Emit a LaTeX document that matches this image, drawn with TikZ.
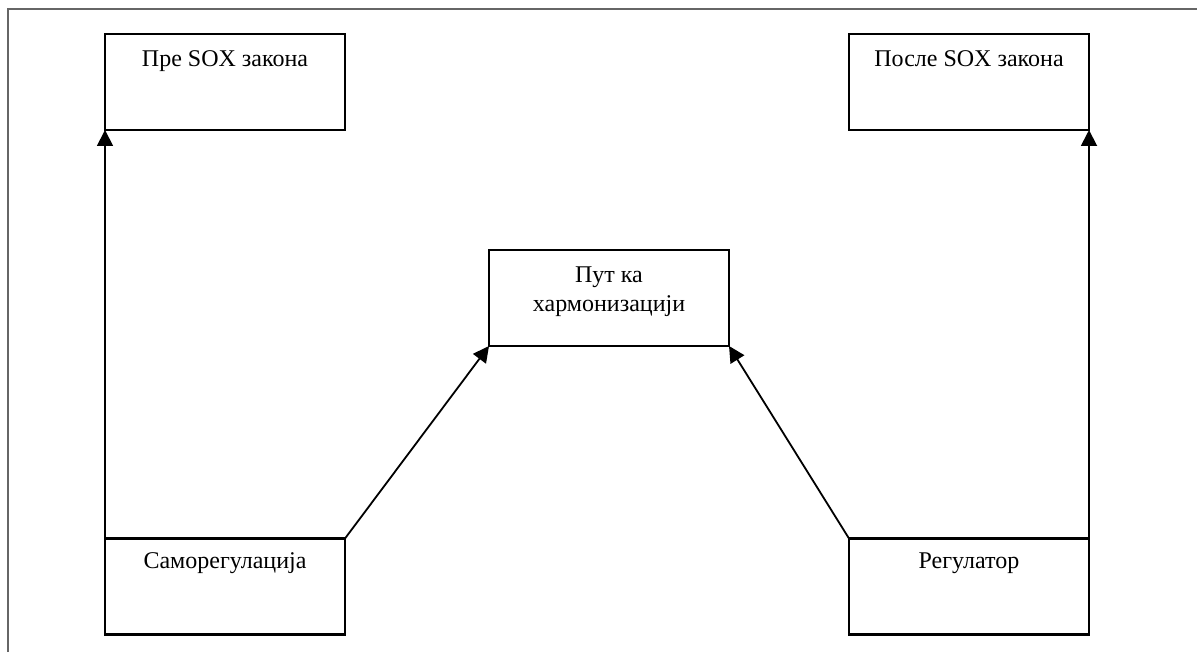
\documentclass[tikz,border=0pt]{standalone}
\usepackage{fontspec}
\setmainfont{Liberation Serif}
\usetikzlibrary{arrows.meta}
\begin{document}
\begin{tikzpicture}[x=1pt,y=1pt,
  box/.style={draw=black, line width=1.2pt, minimum width=120pt, minimum height=48pt, inner sep=0pt, outer sep=0pt},
  lbl/.style={anchor=base, inner sep=0pt, font=\fontsize{12}{14}\selectfont},
  conn/.style={draw=black, line width=0.9pt, -{Triangle[length=8pt,width=8pt]}, shorten >=0pt},
  frame/.style={draw=black!60, line width=0.9pt}]
\useasboundingbox (0,0) rectangle (598.5,326);
\draw[frame] (4,0) -- (4,321.5) -- (598.5,321.5);
\node[box] (pre) at (112.5,285) {};
\node[box] (posle) at (484.5,285) {};
\node[box] (mid) at (304.5,177) {};
\node[box] (samo) at (112.5,32.75) {};
\node[box] (reg) at (484.5,32.75) {};
\node[lbl] (tpre) at (112.5,292.5) {Пре SOX закона};
\node[lbl] (tposle) at (484.5,292.5) {После SOX закона};
\node[lbl] (tmid1) at (304.5,184.5) {Пут ка};
\node[lbl] (tmid2) at (304.5,170) {хармонизацији};
\node[lbl] (tsamo) at (112.5,41.5) {Саморегулација};
\node[lbl] (treg) at (484.5,41.5) {Регулатор};
\draw[conn] (samo.north west) -- (pre.south west);
\draw[conn] (samo.north east) -- (mid.south west);
\draw[conn] (reg.north west) -- (mid.south east);
\draw[conn] (reg.north east) -- (posle.south east);
\end{tikzpicture}
\end{document}
